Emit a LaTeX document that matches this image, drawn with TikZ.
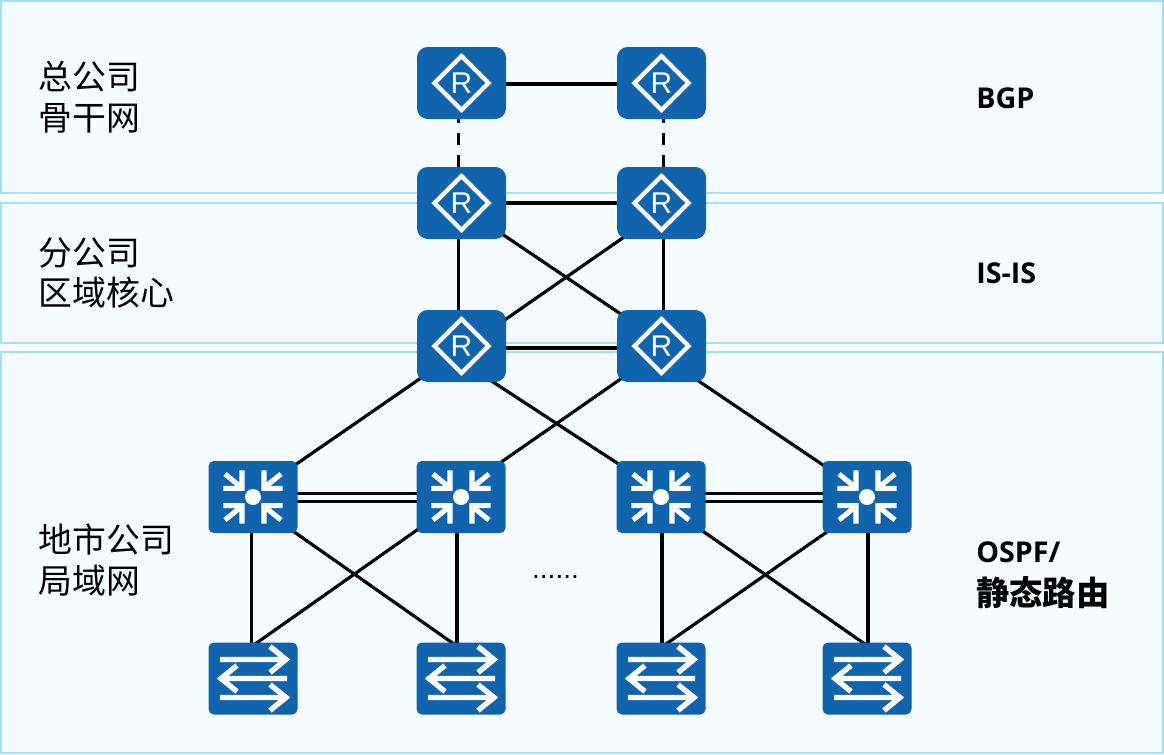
\documentclass[tikz,border=0pt]{standalone}
\usepackage{fontspec}
\usepackage{tikz}
\usetikzlibrary{calc,backgrounds}
\setmainfont{Liberation Sans}
\newfontfamily\cjk{Noto Sans CJK SC}
\newfontfamily\latinbold{Open Sans}
\definecolor{devblue}{RGB}{17,100,172}
\definecolor{panelline}{RGB}{158,227,247}
\definecolor{panelfill}{RGB}{245,252,255}
\begin{document}
\begin{tikzpicture}[x=0.75pt,y=-0.75pt,
    panel/.style={draw=panelline,fill=panelfill,line width=1.5pt},
    areatext/.style={anchor=west,align=left,inner sep=0pt,font=\cjk\fontsize{25.4}{30.5}\selectfont},
    prototext/.style={anchor=west,align=left,inner sep=0pt,font=\latinbold\bfseries\fontsize{21.5}{24}\selectfont},
    device/.style={fill=devblue,minimum width=66.75pt,minimum height=54pt,inner sep=0pt,outer sep=0pt},
    router/.style={device,rounded corners=8pt,text=white,font=\fontsize{22.5}{24}\selectfont,
        path picture={\draw[white,line width=3.4pt,sharp corners] ($(path picture bounding box.center)+(-27,0)$)
            -- ++(27,-27) -- ++(27,27) -- ++(-27,27) -- cycle;}},
    corebox/.style={device,rounded corners=4pt,
        path picture={\begin{scope}[shift={(path picture bounding box.center)},white,line width=3.8pt,sharp corners]
            \fill (0,0) circle (8);
            \draw (-29.7,-8.7) -- (-11,-8.7) -- (-11,-26.7) (-28,-23) -- (-12,-10);
            \draw (29.7,-8.7) -- (11,-8.7) -- (11,-26.7) (28,-23) -- (12,-10);
            \draw (-29.7,8.7) -- (-11,8.7) -- (-11,26.7) (-28,23) -- (-12,10);
            \draw (29.7,8.7) -- (11,8.7) -- (11,26.7) (28,23) -- (12,10);
        \end{scope}}},
    accessbox/.style={device,rounded corners=4pt,
        path picture={\begin{scope}[shift={(path picture bounding box.center)},white,line width=4pt,sharp corners]
            \draw (-33,-19) -- (33,-19) (17,-32) -- (33,-19) -- (17,-6);
            \draw (34,0) -- (-32,0) (-16,-13) -- (-32,0) -- (-16,13);
            \draw (-33,19) -- (33,19) (17,6) -- (33,19) -- (17,32);
        \end{scope}}},
    link/.style={line width=2.4pt},
    dashlink/.style={link,dash pattern=on 9pt off 7.5pt,dash phase=6pt}]
    \useasboundingbox (0,0) rectangle (1164,754);

    \node[areatext] (hq) at (38.5,97) {总公司\\骨干网};
    \node[areatext] (branch) at (38.5,273) {分公司\\区域核心};
    \node[areatext] (city) at (38.5,560) {地市公司\\局域网};
    \node[prototext] (bgp) at (976,98) {BGP};
    \node[prototext] (isis) at (976,273) {IS-IS};
    \node[prototext,font=\bfseries\fontsize{25}{32.2}\selectfont] (ospf) at (976,575)
        {{\latinbold\fontsize{21.5}{32.2}\selectfont OSPF/}\\{\cjk 静态路由}};

    \node[router] (r1) at (461.5,83) {R};
    \node[router] (r2) at (661.5,83) {R};
    \node[router] (r3) at (461.5,203) {R};
    \node[router] (r4) at (661.5,203) {R};
    \node[router] (r5) at (461.5,346) {R};
    \node[router] (r6) at (661.5,346) {R};

    \node[corebox] (s1) at (253,497) {};
    \node[corebox] (s2) at (461,497) {};
    \node[corebox] (s3) at (661,497) {};
    \node[corebox] (s4) at (867,497) {};

    \node[accessbox] (a1) at (253,678.5) {};
    \node[accessbox] (a2) at (461,678.5) {};
    \node[accessbox] (a3) at (661,678.5) {};
    \node[accessbox] (a4) at (867,678.5) {};

    \node[font=\fontsize{21}{22}\selectfont,inner sep=0pt] (more) at (555.5,577) {......};

    \begin{pgfonlayer}{background}
    \draw[panel] (1,1) rectangle (1163,193);
    \draw[panel] (1,203) rectangle (1163,343);
    \draw[panel] (1,352) rectangle (1163,753);

    \draw[link] ($(r1)+(0,1)$) -- ($(r2)+(0,1)$);
    \draw[dashlink] ($(r1.south)+(-3,0)$) -- ($(r3.north)+(-3,0)$);
    \draw[dashlink] ($(r2.south)+(2,0)$) -- ($(r4.north)+(2,0)$);
    \draw[link] (r3) -- (r4);
    \draw[link] ($(r3)+(0,3.7)$) -- ($(r6)+(0,-4.5)$);
    \draw[link] ($(r4)+(0,8)$) -- ($(r5)+(0,4)$);
    \draw[link] ($(r3)+(-3,0)$) -- ($(r5)+(-3,0)$);
    \draw[link] ($(r4)+(2,0)$) -- ($(r6)+(2,0)$);
    \draw[link] ($(r5)+(0,2)$) -- ($(r6)+(0,2)$);

    \draw[link] ($(r5)+(0,4)$) -- ($(s1)+(0,-3)$);
    \draw[link] ($(r5)+(0,15.4)$) -- ($(s3)+(0,-5.3)$);
    \draw[link] ($(r6)+(0,4.6)$) -- ($(s2)+(0,-7)$);
    \draw[link] ($(r6)+(0,10)$) -- ($(s4)+(0,-2.3)$);

    \draw[link] ($(s1)+(0,-3.5)$) -- ($(s2)+(0,-3.5)$);
    \draw[link] ($(s1)+(0,4.5)$) -- ($(s2)+(0,4.5)$);
    \draw[link] ($(s3)+(0,-3.5)$) -- ($(s4)+(0,-3.5)$);
    \draw[link] ($(s3)+(0,4.5)$) -- ($(s4)+(0,4.5)$);

    \draw[link] ($(s1)+(-1.5,0)$) -- ($(a1)+(-1.5,0)$);
    \draw[link] ($(s2)+(-4,0)$) -- ($(a2)+(-4,0)$);
    \draw[link] ($(s3)+(1,0)$) -- ($(a3)+(1,0)$);
    \draw[link] ($(s4)+(1,0)$) -- ($(a4)+(1,0)$);
    \draw[link] ($(s1)+(0,6)$) -- ($(a2)+(0,-29.5)$);
    \draw[link] ($(s2)+(0,2)$) -- ($(a1)+(0,-33)$);
    \draw[link] ($(s3)+(0,5)$) -- ($(a4)+(0,-33)$);
    \draw[link] ($(s4)+(0,7)$) -- ($(a3)+(0,-31)$);
    \end{pgfonlayer}
\end{tikzpicture}
\end{document}
